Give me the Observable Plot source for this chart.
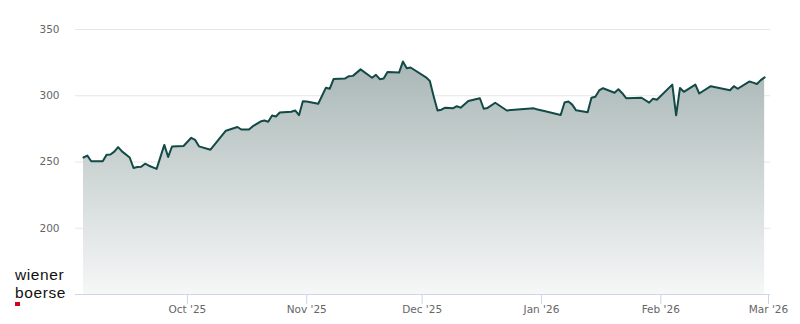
<!DOCTYPE html>
<html>
<head>
<meta charset="utf-8">
<script src="https://cdn.jsdelivr.net/npm/d3@7"></script>
<script src="https://cdn.jsdelivr.net/npm/@observablehq/plot@0.6"></script>
<style>
  html, body { margin: 0; padding: 0; background: #fff; }
  #wrap { position: relative; width: 800px; height: 324px; }
  .logo { position: absolute; left: 15px; font-family: "Liberation Sans", Arial, sans-serif;
          font-size: 15.5px; line-height: 17.3px; height: 17.3px; letter-spacing: 0.6px; color: #111; white-space: nowrap; }
  #logo1 { top: 266.3px; }
  #logo2 { top: 283.8px; }
  #logosq { position: absolute; left: 15px; top: 302px; width: 5px; height: 4px; background: #d6001c; }
</style>
</head>
<body>
<div id="wrap">
  <div id="chart"></div>
  <div class="logo" id="logo1">wiener</div>
  <div class="logo" id="logo2">boerse</div>
  <div id="logosq"></div>
</div>
<script>
const dates = [
  "2025-09-04","2025-09-05","2025-09-06","2025-09-09","2025-09-10","2025-09-11","2025-09-12","2025-09-13",
  "2025-09-14","2025-09-16","2025-09-17","2025-09-18","2025-09-19","2025-09-20","2025-09-21","2025-09-23",
  "2025-09-25","2025-09-26","2025-09-27","2025-09-30","2025-10-02","2025-10-03","2025-10-04","2025-10-07",
  "2025-10-11","2025-10-14","2025-10-15","2025-10-17","2025-10-18","2025-10-20","2025-10-21","2025-10-22",
  "2025-10-23","2025-10-24","2025-10-25","2025-10-28","2025-10-29","2025-10-30","2025-10-31","2025-11-01",
  "2025-11-04","2025-11-06","2025-11-07","2025-11-08","2025-11-11","2025-11-12","2025-11-13","2025-11-15",
  "2025-11-18","2025-11-19","2025-11-20","2025-11-21","2025-11-22","2025-11-25","2025-11-26","2025-11-27",
  "2025-11-28","2025-12-02","2025-12-03","2025-12-04","2025-12-05","2025-12-06","2025-12-07","2025-12-09",
  "2025-12-10","2025-12-11","2025-12-13","2025-12-16","2025-12-17","2025-12-18","2025-12-20","2025-12-23",
  "2025-12-30","2025-12-31","2026-01-02","2026-01-06","2026-01-07","2026-01-08","2026-01-09","2026-01-10",
  "2026-01-13","2026-01-14","2026-01-15","2026-01-16","2026-01-17","2026-01-20","2026-01-21","2026-01-22",
  "2026-01-23","2026-01-27","2026-01-29","2026-01-30","2026-01-31","2026-02-04","2026-02-05","2026-02-06",
  "2026-02-07","2026-02-10","2026-02-11","2026-02-14","2026-02-19","2026-02-20","2026-02-21","2026-02-24",
  "2026-02-25","2026-02-26","2026-02-27","2026-02-28"
];
const values = [
  253.4,254.8,250.6,250.5,255.4,255.7,257.8,261.2,
  258.0,253.4,245.5,246.2,246.4,248.7,247.2,244.8,
  262.9,253.8,261.7,262.1,268.3,266.7,261.8,259.3,
  273.6,276.4,274.5,274.5,277.0,280.5,281.3,280.4,
  285.1,284.3,287.4,287.9,288.9,285.3,295.9,295.7,
  294.0,306.1,305.3,312.7,313.1,314.8,315.0,319.9,
  313.6,315.8,312.5,313.0,318.0,317.5,325.8,320.8,
  321.3,313.9,311.2,299.5,288.8,289.5,291.0,290.5,
  292.1,291.0,296.1,298.1,290.2,290.8,294.7,288.9,
  290.5,289.6,288.3,285.5,294.9,295.7,293.3,289.0,
  287.6,298.5,299.3,304.0,305.7,302.3,304.9,301.9,
  298.2,298.5,294.8,297.8,297.0,308.4,285.2,305.9,
  303.0,308.4,301.7,307.2,304.2,307.2,305.3,310.7,
  309.9,308.9,311.8,313.9
];
const yTicks = [200, 250, 300, 350];
const yBase = 150;
const yTop = 350;
const xTicks = ["2025-10-01","2025-11-01","2025-12-01","2026-01-01","2026-02-01","2026-03-01"];
const xTickLabels = ["Oct '25","Nov '25","Dec '25","Jan '26","Feb '26","Mar '26"];
const xStart = "2025-09-04";
const xEnd = "2026-03-01";

const data = dates.map((d, i) => ({date: new Date(d), value: values[i]}));
const xTickDates = xTicks.map(d => new Date(d));

const chart = Plot.plot({
  width: 800,
  height: 324,
  marginTop: 29,
  marginBottom: 30,
  marginLeft: 75,
  marginRight: 30,
  insetLeft: 8,
  insetRight: 2,
  style: {fontFamily: "'DejaVu Sans', sans-serif", fontSize: "10.5px", color: "#666", background: "#fff"},
  x: {type: "utc", domain: [new Date(xStart), new Date(xEnd)]},
  y: {domain: [yBase, yTop]},
  marks: [
    Plot.gridY(yTicks, {stroke: "#e6e6e6", strokeOpacity: 1}),
    Plot.areaY(data, {x: "date", y1: yBase, y2: "value", fill: "url(#areaGrad)"}),
    Plot.ruleY([yBase], {stroke: "#ccd6eb"}),
    Plot.lineY(data, {x: "date", y: "value", stroke: "#134a47", strokeWidth: 2, strokeLinejoin: "round"}),
    Plot.axisY(yTicks, {tickSize: 0, tickPadding: 16, fill: "#666", label: null}),
    Plot.axisX(xTickDates, {
      tickSize: 10, tickPadding: 1, stroke: "#ccd6eb", fill: "#666", label: null,
      tickFormat: d => xTickLabels[xTickDates.findIndex(t => +t === +d)]
    })
  ]
});

const defs = d3.select(chart).insert("defs", ":first-child");
const grad = defs.append("linearGradient").attr("id", "areaGrad")
  .attr("x1", 0).attr("y1", 0).attr("x2", 0).attr("y2", 1);
grad.append("stop").attr("offset", 0).attr("stop-color", "#a9b7b6");
grad.append("stop").attr("offset", 1).attr("stop-color", "#f6f7f7");

document.getElementById("chart").appendChild(chart);
</script>
</body>
</html>
